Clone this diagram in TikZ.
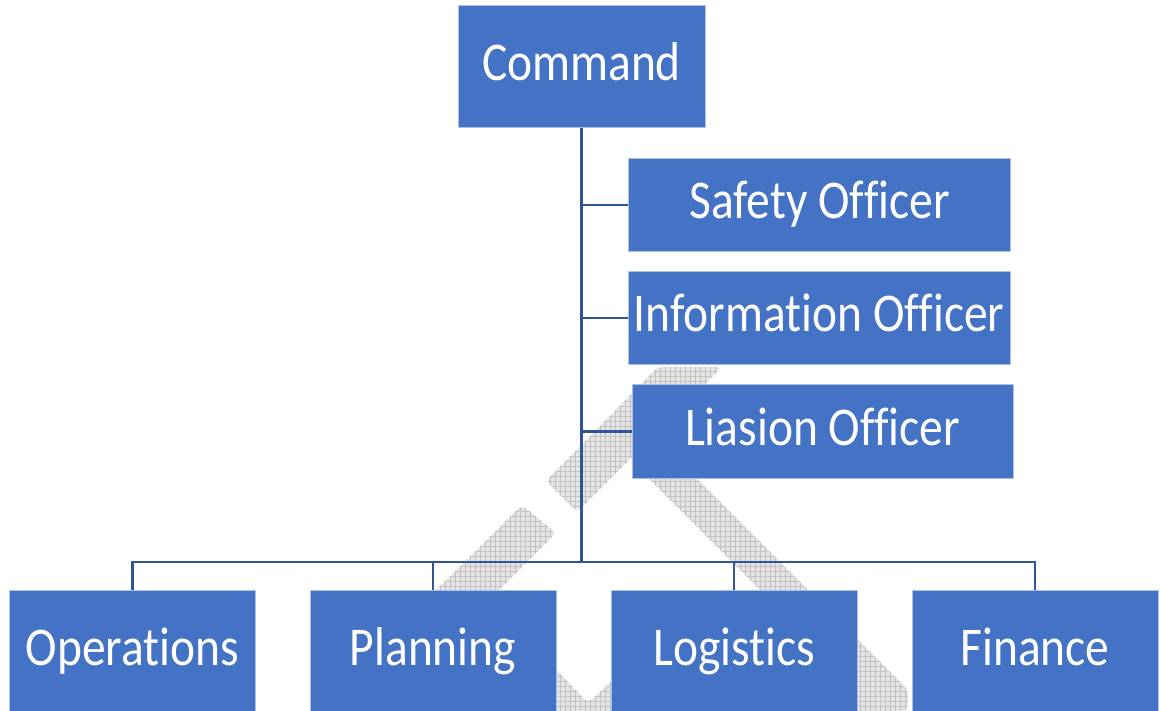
\documentclass[tikz,border=0pt]{standalone}
\usepackage{fontspec}
\setmainfont[Ligatures=NoCommon]{Carlito}
\usetikzlibrary{calc}
\usetikzlibrary{patterns.meta}

\definecolor{unitblue}{HTML}{4472C4}
\definecolor{linkblue}{HTML}{2F5597}
\definecolor{wmgray}{HTML}{E4E4E4}
\definecolor{wmline}{HTML}{C2C2C2}

\newcommand{\tall}[1]{\scalebox{1}[1.15]{#1}}

\tikzset{
  unit/.style={rectangle,fill=unitblue,draw=unitblue!45!white,line width=1pt,
    text=white,inner sep=0pt,font=\fontsize{47.5}{57}\selectfont,
    text height=36pt,text depth=8.4pt},
  staff/.style={unit,minimum width=382pt,minimum height=93pt},
  section/.style={unit,minimum width=246pt,minimum height=123pt},
  link/.style={draw=linkblue,line width=2.8pt},
  wm/.style={fill=wmgray,rounded corners=5pt,
    postaction={pattern={Hatch[angle=0,distance=5pt,line width=0.5pt]},pattern color=wmline}}
}

\begin{document}
\begin{tikzpicture}

\begin{scope}[x=1pt,y=-1pt]
    \useasboundingbox (0,0) rectangle (1160,711);

    % grey bars behind the chart
    \path[wm] (658,367) -- (722,367) -- (577,512) -- (546,481) -- cycle;
    \path[wm] (522,505) -- (556,533) -- (378,711) -- (314,711) -- cycle;
    \path[wm] (640,470) -- (688,470) -- (908,690) -- (908,711) -- (760,711) -- (760,590) -- cycle;
    \path[wm] (548,661) -- (588,703) -- (616,677) -- (616,711) -- (548,711) -- cycle;

    \node[unit,minimum width=247pt,minimum height=122pt] (cmd) at (581.5,67) {\tall{Command}};

    \node[staff] (safe) at (819.5,205) {\tall{Safety Officer}};
    \node[staff] (info) at (819,318) {\tall{Information Officer}};
    \node[staff,minimum width=381pt] (liai) at (822.5,431.5) {\tall{Liasion Officer}};

    \node[section] (ops) at (132.5,651.5) {\tall{Operations}};
    \node[section] (plan) at (433,651.5) {\tall{Planning}};
    \node[section] (logi) at (734,651.5) {\tall{Logistics}};
    \node[section] (fin) at (1035,651.5) {\tall{Finance}};

    \coordinate (bus) at (581.5,562);

    \draw[link] (cmd.south) -- (bus);
    \draw[link] (safe.west) -- (safe.west -| cmd.south);
    \draw[link] (info.west) -- (info.west -| cmd.south);
    \draw[link] (liai.west) -- (liai.west -| cmd.south);

    \draw[link] (ops.north) -- (ops.north |- bus) -- (fin.north |- bus) -- (fin.north);
    \draw[link] (plan.north) -- (plan.north |- bus);
    \draw[link] (logi.north) -- (logi.north |- bus);
\end{scope}

\end{tikzpicture}
\end{document}
